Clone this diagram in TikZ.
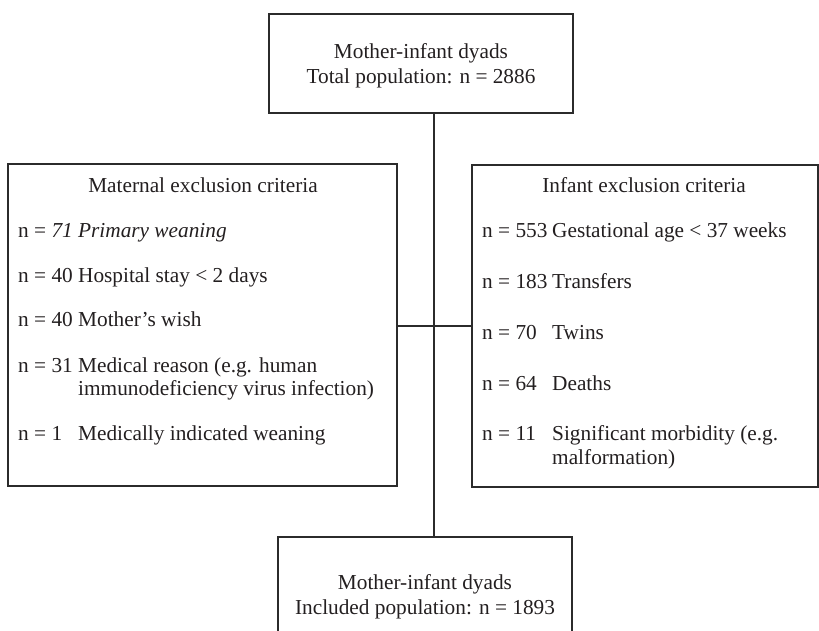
\documentclass[tikz,border=0pt]{standalone}
\usepackage{fontspec}
\setmainfont{Liberation Serif}
\definecolor{linec}{HTML}{2B2B2B}
\definecolor{textc}{HTML}{231F20}
\tikzset{
  box/.style={draw=linec, line width=1.6pt, fill=none},
  conn/.style={draw=linec, line width=1.6pt},
  txt/.style={inner sep=0pt, text=textc, font=\fontsize{21.3}{25}\selectfont},
  item/.style={txt, anchor=base west},
}
\newcommand{\lnum}[1]{\makebox[60pt][l]{#1}}
\newcommand{\rnum}[1]{\makebox[70pt][l]{#1}}
\begin{document}
\begin{tikzpicture}[x=1pt,y=-1pt]
\clip (0,0) rectangle (819,630);
\useasboundingbox (0,0) rectangle (819,630);
% boxes
\node[box, minimum width=304pt, minimum height=99pt, inner sep=0pt] (top) at (421,63.5) {};
\node[box, minimum width=389pt, minimum height=322pt, inner sep=0pt] (left) at (202.5,325) {};
\node[box, minimum width=346pt, minimum height=322pt, inner sep=0pt] (right) at (645,326) {};
\node[box, minimum width=294pt, minimum height=110pt, inner sep=0pt] (bottom) at (425,592) {};
% connectors
\coordinate (jn) at (434,326);
\draw[conn] (jn |- top.south) -- (jn |- bottom.north);
\draw[conn] (left.east |- jn) -- (right.west |- jn);
% top box text
\node[txt, anchor=base] (t1) at (421,58) {Mother-infant dyads};
\node[txt, anchor=base] (t2) at (421,83) {Total population: n = 2886};
% left box
\node[txt, anchor=base] (lh) at (203,192) {Maternal exclusion criteria};
\node[item] (l1) at (18,237) {\lnum{n = \itshape 71}\itshape Primary weaning};
\node[item] (l2) at (18,282) {\lnum{n = 40}Hospital stay < 2 days};
\node[item] (l3) at (18,326) {\lnum{n = 40}Mother’s wish};
\node[item] (l4) at (18,372) {\lnum{n = 31}Medical reason (e.g. human};
\node[item] (l4b) at (78,395) {immunodeficiency virus infection)};
\node[item] (l5) at (18,440) {\lnum{n = 1}Medically indicated weaning};
% right box
\node[txt, anchor=base] (rh) at (644,192) {Infant exclusion criteria};
\node[item] (r1) at (482,237) {\rnum{n = 553}Gestational age < 37 weeks};
\node[item] (r2) at (482,288) {\rnum{n = 183}Transfers};
\node[item] (r3) at (482,339) {\rnum{n = 70}Twins};
\node[item] (r4) at (482,390) {\rnum{n = 64}Deaths};
\node[item] (r5) at (482,440) {\rnum{n = 11}Significant morbidity (e.g.};
\node[item] (r5b) at (552,464) {malformation)};
% bottom box text
\node[txt, anchor=base] (b1) at (425,589) {Mother-infant dyads};
\node[txt, anchor=base] (b2) at (425,614) {Included population: n = 1893};
\end{tikzpicture}
\end{document}
